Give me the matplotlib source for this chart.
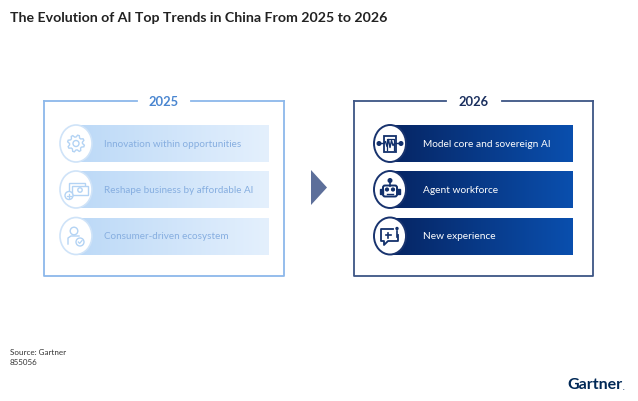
import matplotlib.pyplot as plt
import numpy as np
from matplotlib.patches import Rectangle, Ellipse, Polygon, FancyBboxPatch, Circle

title = 'The Evolution of AI Top Trends in China From 2025 to 2026'
years = ['2025', '2026']
trends_2025 = ['Innovation within opportunities', 'Reshape business by affordable AI', 'Consumer-driven ecosystem']
trends_2026 = ['Model core and sovereign AI', 'Agent workforce', 'New experience']
source = 'Source: Gartner'
doc_id = '855056'

FONT = 'Lato'
NAVY = '#12306b'
LIGHT = '#b3d3f4'


def gradient_bar(ax, x0, x1, y0, y1, c0, c1):
    c0 = np.array(plt.matplotlib.colors.to_rgb(c0))
    c1 = np.array(plt.matplotlib.colors.to_rgb(c1))
    t = np.linspace(0, 1, 200)[None, :, None]
    img = c0 + (c1 - c0) * t
    ax.imshow(img, extent=(x0, x1, y1, y0), aspect='auto', zorder=2, interpolation='bilinear')


def frame(ax, x0, x1, y0, y1, label, gap, color, tcolor):
    cx = (x0 + x1) / 2
    lw = 1.3
    ax.plot([x0, x0, x1, x1], [y0, y1, y1, y0], color=color, lw=lw, zorder=1)
    ax.plot([x0, cx - gap], [y0, y0], color=color, lw=lw, zorder=1)
    ax.plot([cx + gap, x1], [y0, y0], color=color, lw=lw, zorder=1)
    ax.text(cx, y0, label, ha='center', va='center', fontsize=9.3, fontweight='bold',
            color=tcolor, family=FONT)


def icon_gear(ax, cx, cy, c):
    n = 8
    ang = np.linspace(0, 2 * np.pi, n * 4, endpoint=False)
    r = np.where((np.arange(n * 4) // 2) % 2 == 0, 8.5, 6.5)
    ax.add_patch(Polygon(np.c_[cx + r * np.cos(ang + 0.2), cy + r * np.sin(ang + 0.2)],
                         closed=True, fill=False, ec=c, lw=1.0, zorder=5))
    ax.add_patch(Circle((cx, cy), 3.0, fill=False, ec=c, lw=1.0, zorder=5))


def icon_money(ax, cx, cy, c):
    ax.add_patch(Rectangle((cx - 7, cy - 7), 16, 9, fill=False, ec=c, lw=1.0, zorder=5))
    ax.add_patch(Rectangle((cx - 4, cy - 4), 16, 9, fc='white', ec=c, lw=1.0, zorder=5))
    ax.add_patch(Circle((cx + 4, cy + 0.5), 2.2, fill=False, ec=c, lw=1.0, zorder=6))
    ax.add_patch(Circle((cx - 7, cy + 6), 4, fc='white', ec=c, lw=1.0, zorder=6))
    ax.plot([cx - 9, cx - 5], [cy + 6, cy + 6], color=c, lw=0.9, zorder=7)
    ax.plot([cx - 7, cx - 7], [cy + 4, cy + 8], color=c, lw=0.9, zorder=7)


def icon_person(ax, cx, cy, c):
    ax.add_patch(Circle((cx - 2, cy - 5), 3.8, fill=False, ec=c, lw=1.0, zorder=5))
    ax.plot([cx - 8, cx - 8, cx - 5, cx + 3], [cy + 8, cy + 2, cy, cy], color=c, lw=1.0, zorder=5)
    ax.add_patch(Circle((cx + 4, cy + 6), 4, fc='white', ec=c, lw=1.0, zorder=6))
    ax.plot([cx + 2.3, cx + 3.6, cx + 6], [cy + 6, cy + 7.4, cy + 4.6], color=c, lw=0.9, zorder=7)


def icon_model(ax, cx, cy, c):
    ax.add_patch(Rectangle((cx - 6, cy - 8), 12, 16, fill=False, ec=c, lw=1.3, zorder=5))
    ax.plot([cx - 3.5, cx - 3.5, cx + 3.5, cx + 3.5], [cy + 6, cy - 5, cy - 5, cy + 6], color=c, lw=0.9, zorder=5)
    wx = np.linspace(cx - 9, cx + 9, 13)
    wy = cy + np.array([0, 0, 0, -2, 3, -4, 4, -3, 2, 0, 0, 0, 0])
    ax.plot(wx, wy, color=c, lw=1.0, zorder=6)
    for sx in (-1, 1):
        ax.add_patch(Circle((cx + sx * 11, cy), 1.8, fc=c, ec=c, zorder=6))


def icon_robot(ax, cx, cy, c):
    ax.add_patch(FancyBboxPatch((cx - 7, cy - 4), 14, 11, boxstyle='round,pad=0,rounding_size=2',
                                fill=False, ec=c, lw=1.4, zorder=5))
    ax.plot([cx, cx], [cy - 4, cy - 8], color=c, lw=1.2, zorder=5)
    ax.add_patch(Circle((cx, cy - 9), 1.8, fc=c, ec=c, zorder=5))
    ax.add_patch(Rectangle((cx - 10, cy - 1), 3, 5, fc=c, ec=c, zorder=5))
    ax.add_patch(Rectangle((cx + 7, cy - 1), 3, 5, fc=c, ec=c, zorder=5))
    ax.add_patch(Circle((cx - 3, cy), 1.4, fc=c, ec=c, zorder=6))
    ax.add_patch(Circle((cx + 3, cy), 1.4, fc=c, ec=c, zorder=6))
    ax.plot([cx - 3, cx + 3], [cy + 4, cy + 4], color=c, lw=1.0, zorder=6)


def icon_chat(ax, cx, cy, c):
    pts = [(cx + 3, cy - 7), (cx - 9, cy - 7), (cx - 9, cy + 5), (cx - 6, cy + 5),
           (cx - 6, cy + 9), (cx - 2, cy + 5), (cx + 8, cy + 5), (cx + 8, cy - 1)]
    ax.plot([p[0] for p in pts], [p[1] for p in pts], color=c, lw=1.3, zorder=5)
    ax.plot([cx - 4.5, cx + 0.5], [cy - 1, cy - 1], color=c, lw=1.2, zorder=5)
    ax.plot([cx - 2, cx - 2], [cy - 3.5, cy + 1.5], color=c, lw=1.2, zorder=5)
    ax.add_patch(Circle((cx + 7, cy - 7.5), 1.0, fc=c, ec=c, zorder=5))
    ax.plot([cx + 7, cx + 7], [cy - 5, cy + 1], color=c, lw=1.2, zorder=5)


def plot_trends():
    fig = plt.figure(figsize=(6.38, 4.02), dpi=100)
    ax = fig.add_axes([0, 0, 1, 1])

    ax.text(10, 18, title, fontsize=10.2, fontweight='bold', color='#222222', va='center', family=FONT)

    row_y = [144.5, 190.5, 237]
    row_h = 37
    ew, eh = 32, 37

    # 2025 box
    frame(ax, 44, 284, 102, 277, years[0], 27, '#8cb8ea', '#4a86d0')
    left_icons = [icon_gear, icon_money, icon_person]
    for y, label, ic in zip(row_y, trends_2025, left_icons):
        gradient_bar(ax, 76, 269, y - row_h / 2, y + row_h / 2, '#bcd9f7', '#e4f0fd')
        ax.add_patch(Ellipse((76, y), ew, eh, fc='white', ec='#cfe3f8', lw=1.2, zorder=4))
        ic(ax, 76, y, LIGHT)
        ax.text(104, y, label, fontsize=7.1, color='#86aee0', va='center', family=FONT, zorder=5)

    # arrow
    ax.add_patch(Polygon([(311, 171), (327, 188.5), (311, 206)], closed=True, fc='#5d6f9a', ec='none'))

    # 2026 box
    frame(ax, 354, 593, 102, 277, years[1], 28, '#3d5585', '#1a2f5e')
    right_icons = [icon_model, icon_robot, icon_chat]
    for y, label, ic in zip(row_y, trends_2026, right_icons):
        gradient_bar(ax, 390, 573, y - row_h / 2, y + row_h / 2, '#062563', '#0a4fae')
        ax.add_patch(Ellipse((390, y), ew, eh, fc='white', ec='#18336e', lw=1.4, zorder=4))
        ic(ax, 390, y, NAVY)
        ax.text(423, y, label, fontsize=7.3, color='white', va='center', family=FONT, zorder=5)

    ax.text(10, 353, source, fontsize=5.8, color='#333333', va='center', family=FONT)
    ax.text(10, 363, doc_id, fontsize=5.8, color='#333333', va='center', family=FONT)
    ax.text(567, 385, 'Gartner', fontsize=11.5, fontweight='bold', color='#002856', va='center', family=FONT)
    ax.text(623, 388, '.', fontsize=5, color='#002856', va='center', family=FONT)

    ax.set_xlim(0, 638)
    ax.set_ylim(402, 0)
    ax.axis('off')
    plt.savefig('out.png', dpi=100)


if __name__ == '__main__':
    plot_trends()
